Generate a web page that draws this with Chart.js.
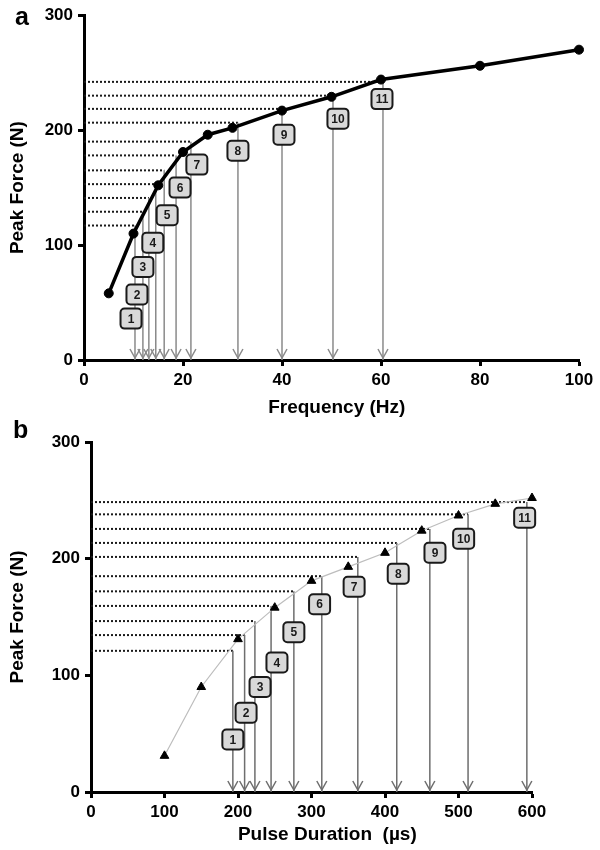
<!DOCTYPE html>
<html>
<head>
<meta charset="utf-8">
<script src="https://cdn.jsdelivr.net/npm/chart.js@4.4.0/dist/chart.umd.min.js"></script>
<style>
  html, body { margin: 0; padding: 0; background: #fff; }
  #page { position: relative; width: 600px; height: 850px; }
  #chartA { position: absolute; left: 0; top: 0; }
  #chartB { position: absolute; left: 0; top: 420px; }
</style>
</head>
<body>
<div id="page">
  <canvas id="chartA" width="600" height="420"></canvas>
  <canvas id="chartB" width="600" height="430"></canvas>
</div>
<script>
// Painel a: força x frequência
const freqA = [5, 10, 15, 20, 25, 30, 40, 50, 60, 80, 100];
const forceA = [58, 110, 152, 181, 196, 202, 217, 229, 244, 256, 270];
const levelsA = [117, 129, 141, 153, 165, 178, 190, 206.5, 218.5, 230, 242];
const arrowFreqA = [10.3, 11.9, 13.1, 14.5, 16.2, 18.6, 21.6, 31.1, 40, 50.3, 60.4];
const boxXA = [9.5, 10.7, 11.9, 13.9, 16.8, 19.4, 22.8, 31.1, 40.4, 51.3, 60.2];
const boxYA = [36, 57, 81, 102, 126, 150, 170, 182, 196, 210, 227];
const xTicksA = [0, 20, 40, 60, 80, 100];

// Painel b: força x duração do pulso
const durB = [100, 150, 200, 250, 300, 350, 400, 450, 500, 550, 600];
const forceB = [31, 90, 131, 158, 181, 193, 205, 224, 237, 247, 252];
const levelsB = [121, 134.5, 146.5, 159.5, 172, 185, 201.5, 213.5, 225.5, 238, 248.5];
const arrowDurB = [193, 209, 223, 245, 276, 314, 363, 416, 461, 513, 593];
const boxXB = [193, 211, 230, 253, 276, 311, 358, 418, 468, 507, 590];
const boxYB = [45, 68, 90, 111, 137, 161, 176, 187, 205, 217, 235];
const xTicksB = [0, 100, 200, 300, 400, 500, 600];

const yTicks = [0, 100, 200, 300];
const boxLabels = ['1', '2', '3', '4', '5', '6', '7', '8', '9', '10', '11'];

Chart.defaults.font.family = 'Arial, "Liberation Sans", Helvetica, sans-serif';
Chart.defaults.color = '#000';

// setas, caixas numeradas e letra do painel
const annotate = {
  id: 'annotate',
  afterDatasetsDraw(chart, args, opts) {
    const { ctx } = chart;
    const x = chart.scales.x, y = chart.scales.y;
    ctx.save();
    ctx.strokeStyle = opts.arrowColor;
    ctx.lineWidth = 1.5;
    const y0 = y.getPixelForValue(0) - 2;
    opts.arrowX.forEach(v => {
      const px = x.getPixelForValue(v);
      ctx.beginPath();
      ctx.moveTo(px - 5, y0 - 9);
      ctx.lineTo(px, y0);
      ctx.lineTo(px + 5, y0 - 9);
      ctx.stroke();
    });
    opts.boxX.forEach((v, i) => {
      const cx = x.getPixelForValue(v), cy = y.getPixelForValue(opts.boxY[i]);
      const w = 21, h = 20;
      ctx.beginPath();
      ctx.roundRect(cx - w / 2, cy - h / 2, w, h, 4);
      ctx.fillStyle = '#d9d9d9';
      ctx.fill();
      ctx.lineWidth = 2;
      ctx.strokeStyle = '#1a1a1a';
      ctx.stroke();
      ctx.fillStyle = '#1a1a1a';
      ctx.font = 'bold 12px Arial, "Liberation Sans", sans-serif';
      ctx.textAlign = 'center';
      ctx.textBaseline = 'middle';
      ctx.fillText(boxLabels[i], cx, cy + 1);
    });
    ctx.font = 'bold 25px Arial, "Liberation Sans", sans-serif';
    ctx.textAlign = 'left';
    ctx.textBaseline = 'alphabetic';
    ctx.fillStyle = '#000';
    ctx.fillText(opts.letter, opts.letterPos[0], opts.letterPos[1]);
    ctx.restore();
  }
};

function buildConfig(p) {
  const dotted = p.levels.map((lv, i) => ({
    data: [{ x: 0, y: lv }, { x: p.arrowX[i], y: lv }],
    showLine: true,
    borderColor: '#1a1a1a',
    borderWidth: 2,
    borderDash: [2, 2],
    pointRadius: 0,
    order: 3
  }));
  const drops = p.levels.map((lv, i) => ({
    data: [{ x: p.arrowX[i], y: lv }, { x: p.arrowX[i], y: 0 }],
    showLine: true,
    borderColor: p.dropColor,
    borderWidth: 1.5,
    pointRadius: 0,
    order: 2
  }));
  const main = {
    data: p.xs.map((v, i) => ({ x: v, y: p.ys[i] })),
    showLine: true,
    borderColor: p.lineColor,
    borderWidth: p.lineWidth,
    pointStyle: p.pointStyle,
    pointRadius: p.pointRadius,
    pointBackgroundColor: '#000',
    pointBorderColor: '#000',
    pointBorderWidth: 1,
    clip: false,
    order: 0
  };
  const tickFont = { size: 17, weight: 'bold' };
  const titleFont = { size: 19, weight: 'bold' };
  return {
    type: 'scatter',
    data: { datasets: [...dotted, ...drops, main] },
    options: {
      responsive: false,
      animation: false,
      devicePixelRatio: 1,
      layout: { padding: p.padding },
      plugins: {
        legend: { display: false },
        tooltip: { enabled: false },
        annotate: {
          arrowX: p.arrowX, arrowColor: p.dropColor,
          boxX: p.boxX, boxY: p.boxY,
          letter: p.letter, letterPos: p.letterPos
        }
      },
      scales: {
        x: {
          type: 'linear',
          min: p.xTicks[0],
          max: p.xTicks[p.xTicks.length - 1],
          afterBuildTicks: s => { s.ticks = p.xTicks.map(v => ({ value: v })); },
          afterFit: s => { s.height = p.xAxisHeight; },
          grid: { drawOnChartArea: false, tickLength: 6, tickWidth: 3, tickColor: '#000' },
          border: { display: true, width: 3, color: '#000' },
          ticks: { padding: 4, font: tickFont, color: '#000', maxRotation: 0 },
          title: { display: true, text: p.xTitle, font: titleFont, color: '#000', padding: { top: 0, bottom: p.xTitlePad } }
        },
        y: {
          min: 0,
          max: 300,
          afterBuildTicks: s => { s.ticks = yTicks.map(v => ({ value: v })); },
          afterFit: s => { s.width = p.yAxisWidth; },
          grid: { drawOnChartArea: false, tickLength: 6, tickWidth: 3, tickColor: '#000' },
          border: { display: true, width: 3, color: '#000' },
          ticks: { padding: 5, font: tickFont, color: '#000' },
          title: { display: true, text: 'Peak Force (N)', font: titleFont, color: '#000', padding: { top: 6, bottom: 0 } }
        }
      }
    },
    plugins: [annotate]
  };
}

new Chart(document.getElementById('chartA'), buildConfig({
  xs: freqA, ys: forceA, levels: levelsA, arrowX: arrowFreqA,
  boxX: boxXA, boxY: boxYA, xTicks: xTicksA,
  xTitle: '  Frequency (Hz)', xTitlePad: 1,
  lineColor: '#000', lineWidth: 3.5, pointStyle: 'circle', pointRadius: 4.5,
  dropColor: '#8a8a8a',
  padding: { top: 13, right: 21, bottom: 0, left: 0 },
  xAxisHeight: 60, yAxisWidth: 84,
  letter: 'a', letterPos: [15, 25]
}));

new Chart(document.getElementById('chartB'), buildConfig({
  xs: durB, ys: forceB, levels: levelsB, arrowX: arrowDurB,
  boxX: boxXB, boxY: boxYB, xTicks: xTicksB,
  xTitle: '      Pulse Duration  (µs)', xTitlePad: 4,
  lineColor: '#bdbdbd', lineWidth: 1.2, pointStyle: 'triangle', pointRadius: 5,
  dropColor: '#6e6e6e',
  padding: { top: 22, right: 68, bottom: 0, left: 0 },
  xAxisHeight: 58, yAxisWidth: 91,
  letter: 'b', letterPos: [13, 18]
}));
</script>
</body>
</html>
